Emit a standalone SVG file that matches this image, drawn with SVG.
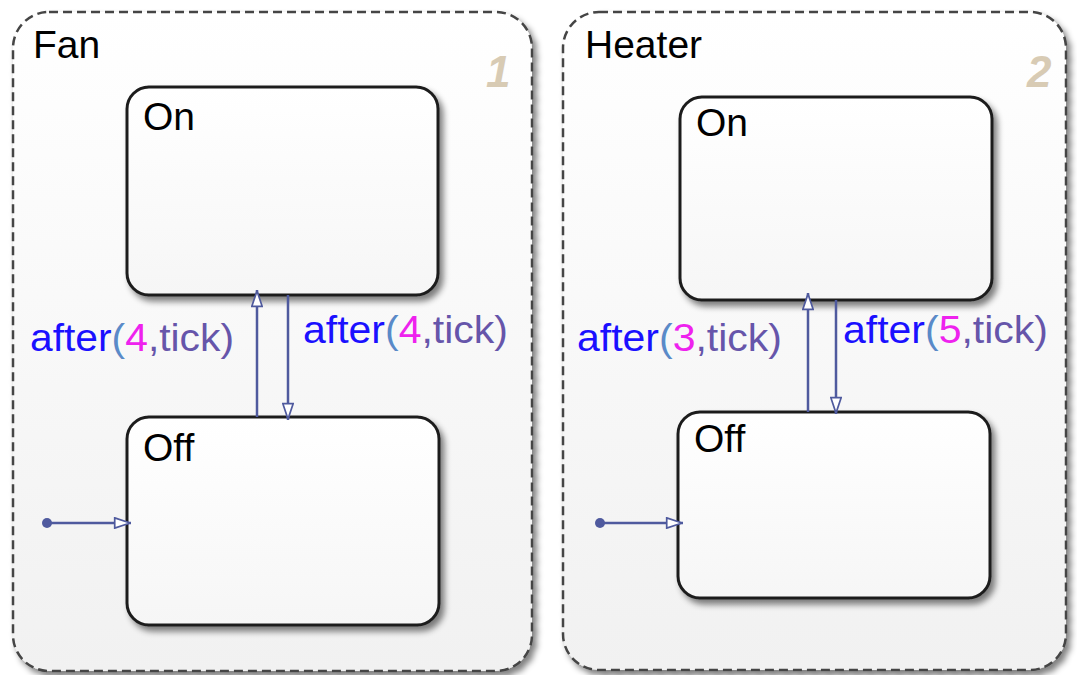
<svg xmlns="http://www.w3.org/2000/svg" width="1077" height="675" viewBox="0 0 1077 675">
<defs>
<linearGradient id="gOuter" x1="0" y1="0" x2="0" y2="1"><stop offset="0" stop-color="#ffffff"/><stop offset="1" stop-color="#f1f1f1"/></linearGradient>
<linearGradient id="gState" x1="0" y1="0" x2="0" y2="1"><stop offset="0" stop-color="#ffffff"/><stop offset="1" stop-color="#f6f6f6"/></linearGradient>
<filter id="sh" x="-10%" y="-10%" width="130%" height="130%"><feGaussianBlur in="SourceAlpha" stdDeviation="3"/><feOffset dx="4" dy="5"/><feComponentTransfer><feFuncA type="linear" slope="0.5"/></feComponentTransfer><feMerge><feMergeNode/><feMergeNode in="SourceGraphic"/></feMerge></filter>
<marker id="ah" viewBox="0 0 20 14" refX="20" refY="7" markerWidth="18" markerHeight="12" markerUnits="userSpaceOnUse" orient="auto"><path d="M1,1 L19,7 L1,13 Z" fill="#fff" stroke="#4f5a9e" stroke-width="2"/></marker>
</defs>
<style>
.outer{fill:url(#gOuter);stroke:#444;stroke-width:2.5;stroke-dasharray:9,5}
.state{fill:url(#gState);stroke:#1e1e1e;stroke-width:3}
.title{font-family:"Liberation Sans",Arial,sans-serif;font-size:39px;fill:#000}
.num{font-family:"Liberation Sans",Arial,sans-serif;font-size:44px;font-weight:bold;font-style:italic;fill:#d8cbb4}
.tr{fill:none;stroke:#4f5a9e;stroke-width:2.5}
.lbl{font-family:"Liberation Sans",Arial,sans-serif;font-size:38px;fill:#6655aa}
.kw{fill:#1a10ff}
.n{fill:#ee22ee}
.p{fill:#5a8ac8}
</style>
<rect width="1077" height="675" fill="#ffffff"/>
<g id="Fan">
<rect class="outer" x="13" y="12" width="519" height="659" rx="36" filter="url(#sh)"/>
<text class="title" x="33" y="58">Fan</text>
<text class="num" x="486" y="87">1</text>
</g>
<g id="Heater">
<rect class="outer" x="563" y="12" width="503" height="658" rx="36" filter="url(#sh)"/>
<text class="title" x="585" y="58">Heater</text>
<text class="num" x="1027" y="87">2</text>
</g>
<g id="Fan_On">
<rect class="state" x="127" y="87" width="311" height="208" rx="22" filter="url(#sh)"/>
<text class="title" x="143" y="130">On</text>
</g>
<g id="Fan_Off">
<rect class="state" x="127" y="417" width="312" height="208" rx="22" filter="url(#sh)"/>
<text class="title" x="143" y="461">Off</text>
</g>
<g id="Heater_On">
<rect class="state" x="680" y="97" width="312" height="203" rx="22" filter="url(#sh)"/>
<text class="title" x="696" y="136">On</text>
</g>
<g id="Heater_Off">
<rect class="state" x="678" y="412" width="312" height="186" rx="22" filter="url(#sh)"/>
<text class="title" x="694" y="452">Off</text>
</g>
<g id="connectors">
<line class="tr" x1="257" y1="417" x2="257" y2="290" marker-end="url(#ah)"/>
<line class="tr" x1="288" y1="295" x2="288" y2="420" marker-end="url(#ah)"/>
<line class="tr" x1="808" y1="412" x2="808" y2="293" marker-end="url(#ah)"/>
<line class="tr" x1="836" y1="300" x2="836" y2="414" marker-end="url(#ah)"/>
<circle cx="47" cy="523" r="5" fill="#4f5a9e"/>
<line class="tr" x1="47" y1="523" x2="131" y2="523" marker-end="url(#ah)"/>
<circle cx="600" cy="523" r="5" fill="#4f5a9e"/>
<line class="tr" x1="600" y1="523" x2="683" y2="523" marker-end="url(#ah)"/>
<text class="lbl" x="30" y="351" textLength="204" lengthAdjust="spacingAndGlyphs"><tspan class="kw">after</tspan><tspan class="p">(</tspan><tspan class="n">4</tspan>,tick)</text>
<text class="lbl" x="303" y="343" textLength="205" lengthAdjust="spacingAndGlyphs"><tspan class="kw">after</tspan><tspan class="p">(</tspan><tspan class="n">4</tspan>,tick)</text>
<text class="lbl" x="577" y="351" textLength="205" lengthAdjust="spacingAndGlyphs"><tspan class="kw">after</tspan><tspan class="p">(</tspan><tspan class="n">3</tspan>,tick)</text>
<text class="lbl" x="843" y="343" textLength="205" lengthAdjust="spacingAndGlyphs"><tspan class="kw">after</tspan><tspan class="p">(</tspan><tspan class="n">5</tspan>,tick)</text>
</g>
</svg>
